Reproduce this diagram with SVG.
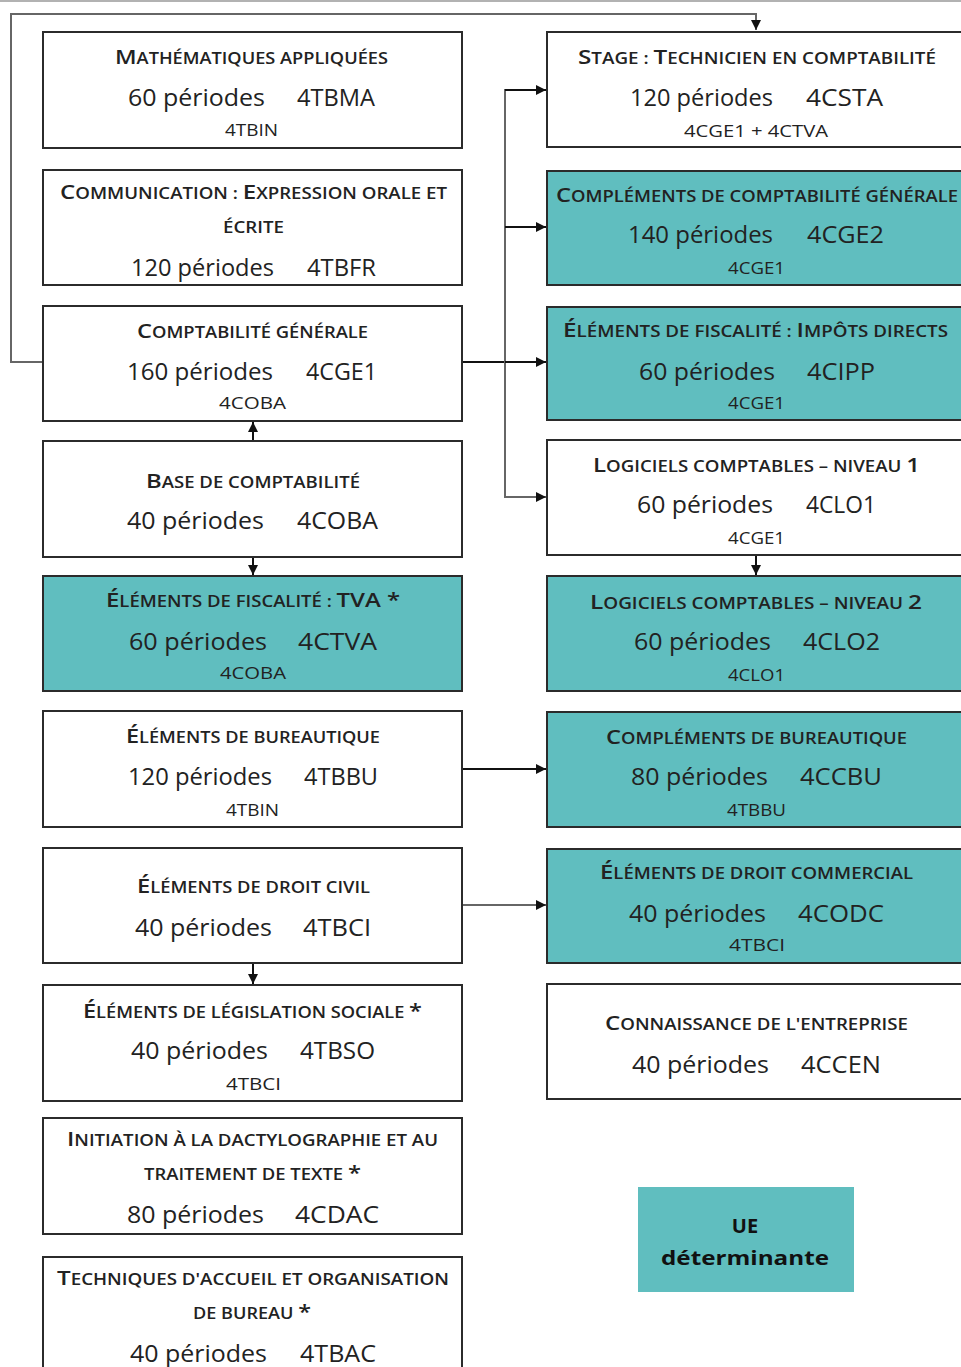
<svg xmlns="http://www.w3.org/2000/svg" width="961" height="1367" viewBox="0 0 961 1367">
<style>
.box{fill:#fff;stroke:#2b2b2b;stroke-width:2}
.det{fill:#60bebf}
text{font-family:"Open Sans","Noto Sans",sans-serif;fill:#222}
.t{font-size:20px;font-weight:600;text-anchor:middle}
.u{font-size:20px}
.s{font-size:15.5px;text-transform:uppercase}
.p{font-size:23px;font-weight:500}
.c{font-size:23px;font-weight:500}
.r{font-size:16px;font-weight:500;text-anchor:middle}
.lg{font-size:20px;font-weight:700;text-anchor:middle;fill:#111}
.cn{fill:none;stroke:#111;stroke-width:2}
.cg{fill:none;stroke:#666;stroke-width:2}
</style>
<defs>
<marker id="ah" markerUnits="userSpaceOnUse" markerWidth="11" markerHeight="11" refX="10" refY="5" orient="auto">
<path d="M0,0 L10,5 L0,10 z" fill="#111"/>
</marker>
</defs>
<rect width="961" height="1367" fill="#fff"/>
<line x1="0" y1="1" x2="961" y2="1" stroke="#999" stroke-width="1.5"/>

<g id="connectors">
<polyline class="cg" points="43,362 11,362 11,14 756,14 756,30" marker-end="url(#ah)"/>
<line class="cn" x1="462" y1="362" x2="505" y2="362"/>
<line class="cg" x1="505" y1="89" x2="505" y2="498"/>
<line class="cn" x1="505" y1="90" x2="546" y2="90" marker-end="url(#ah)"/>
<line class="cn" x1="505" y1="227" x2="546" y2="227" marker-end="url(#ah)"/>
<line class="cn" x1="505" y1="362" x2="546" y2="362" marker-end="url(#ah)"/>
<line class="cg" x1="505" y1="497" x2="546" y2="497" marker-end="url(#ah)"/>
<line class="cn" x1="253" y1="441" x2="253" y2="422" marker-end="url(#ah)"/>
<line class="cn" x1="253" y1="557" x2="253" y2="575" marker-end="url(#ah)"/>
<line class="cn" x1="756" y1="555" x2="756" y2="575" marker-end="url(#ah)"/>
<line class="cn" x1="462" y1="769" x2="546" y2="769" marker-end="url(#ah)"/>
<line class="cg" x1="462" y1="905" x2="546" y2="905" marker-end="url(#ah)"/>
<line class="cn" x1="253" y1="963" x2="253" y2="984" marker-end="url(#ah)"/>
</g>

<g id="n-4TBMA">
<rect class="box" x="43" y="32" width="419" height="116"/>
<text class="t" x="251.5" y="64" textLength="273" lengthAdjust="spacingAndGlyphs"><tspan class="u">M</tspan><tspan class="s">athématiques appliquées</tspan></text>
<text class="p" x="128" y="106" textLength="137" lengthAdjust="spacingAndGlyphs">60 périodes</text>
<text class="c" x="297" y="106" textLength="78" lengthAdjust="spacingAndGlyphs">4TBMA</text>
<text class="r" x="251.5" y="136" textLength="53" lengthAdjust="spacingAndGlyphs">4TBIN</text>
</g>

<g id="n-4TBFR">
<rect class="box" x="43" y="170" width="419" height="115"/>
<text class="t" x="253.5" y="199" textLength="387" lengthAdjust="spacingAndGlyphs"><tspan class="u">C</tspan><tspan class="s">ommunication : </tspan><tspan class="u">E</tspan><tspan class="s">xpression orale et</tspan></text>
<text class="t" x="253.5" y="233" textLength="61" lengthAdjust="spacingAndGlyphs"><tspan class="s">écrite</tspan></text>
<text class="p" x="131" y="276" textLength="143" lengthAdjust="spacingAndGlyphs">120 périodes</text>
<text class="c" x="307" y="276" textLength="69" lengthAdjust="spacingAndGlyphs">4TBFR</text>
</g>

<g id="n-4CGE1">
<rect class="box" x="43" y="306" width="419" height="115"/>
<text class="t" x="252.5" y="338" textLength="231" lengthAdjust="spacingAndGlyphs"><tspan class="u">C</tspan><tspan class="s">omptabilité générale</tspan></text>
<text class="p" x="127" y="380" textLength="146" lengthAdjust="spacingAndGlyphs">160 périodes</text>
<text class="c" x="306" y="380" textLength="71" lengthAdjust="spacingAndGlyphs">4CGE1</text>
<text class="r" x="252.5" y="409" textLength="67" lengthAdjust="spacingAndGlyphs">4COBA</text>
</g>

<g id="n-4COBA">
<rect class="box" x="43" y="441" width="419" height="116"/>
<text class="t" x="253" y="488" textLength="214" lengthAdjust="spacingAndGlyphs"><tspan class="u">B</tspan><tspan class="s">ase de comptabilité</tspan></text>
<text class="p" x="127" y="529" textLength="137" lengthAdjust="spacingAndGlyphs">40 périodes</text>
<text class="c" x="297" y="529" textLength="81" lengthAdjust="spacingAndGlyphs">4COBA</text>
</g>

<g id="n-4CTVA">
<rect class="box det" x="43" y="576" width="419" height="115"/>
<text class="t" x="253" y="607" textLength="294" lengthAdjust="spacingAndGlyphs"><tspan class="u">É</tspan><tspan class="s">léments de fiscalité : </tspan><tspan class="u">TVA *</tspan></text>
<text class="p" x="129" y="650" textLength="138" lengthAdjust="spacingAndGlyphs">60 périodes</text>
<text class="c" x="298" y="650" textLength="79" lengthAdjust="spacingAndGlyphs">4CTVA</text>
<text class="r" x="253" y="679" textLength="66" lengthAdjust="spacingAndGlyphs">4COBA</text>
</g>

<g id="n-4TBBU">
<rect class="box" x="43" y="711" width="419" height="116"/>
<text class="t" x="253" y="743" textLength="254" lengthAdjust="spacingAndGlyphs"><tspan class="u">É</tspan><tspan class="s">léments de bureautique</tspan></text>
<text class="p" x="128" y="785" textLength="144" lengthAdjust="spacingAndGlyphs">120 périodes</text>
<text class="c" x="304" y="785" textLength="74" lengthAdjust="spacingAndGlyphs">4TBBU</text>
<text class="r" x="252.5" y="816" textLength="53" lengthAdjust="spacingAndGlyphs">4TBIN</text>
</g>

<g id="n-4TBCI">
<rect class="box" x="43" y="848" width="419" height="115"/>
<text class="t" x="253.5" y="893" textLength="233" lengthAdjust="spacingAndGlyphs"><tspan class="u">É</tspan><tspan class="s">léments de droit civil</tspan></text>
<text class="p" x="135" y="936" textLength="137" lengthAdjust="spacingAndGlyphs">40 périodes</text>
<text class="c" x="303" y="936" textLength="68" lengthAdjust="spacingAndGlyphs">4TBCI</text>
</g>

<g id="n-4TBSO">
<rect class="box" x="43" y="985" width="419" height="116"/>
<text class="t" x="252.5" y="1018" textLength="339" lengthAdjust="spacingAndGlyphs"><tspan class="u">É</tspan><tspan class="s">léments de législation sociale </tspan><tspan class="u">*</tspan></text>
<text class="p" x="131" y="1059" textLength="137" lengthAdjust="spacingAndGlyphs">40 périodes</text>
<text class="c" x="300" y="1059" textLength="75" lengthAdjust="spacingAndGlyphs">4TBSO</text>
<text class="r" x="253.5" y="1090" textLength="55" lengthAdjust="spacingAndGlyphs">4TBCI</text>
</g>

<g id="n-4CDAC">
<rect class="box" x="43" y="1118" width="419" height="116"/>
<text class="t" x="252.5" y="1146" textLength="371" lengthAdjust="spacingAndGlyphs"><tspan class="u">I</tspan><tspan class="s">nitiation à la dactylographie et au</tspan></text>
<text class="t" x="252.5" y="1180" textLength="217" lengthAdjust="spacingAndGlyphs"><tspan class="s">traitement de texte </tspan><tspan class="u">*</tspan></text>
<text class="p" x="127" y="1223" textLength="137" lengthAdjust="spacingAndGlyphs">80 périodes</text>
<text class="c" x="295" y="1223" textLength="84" lengthAdjust="spacingAndGlyphs">4CDAC</text>
</g>

<g id="n-4TBAC">
<rect class="box" x="43" y="1257" width="419" height="125"/>
<text class="t" x="253" y="1285" textLength="392" lengthAdjust="spacingAndGlyphs"><tspan class="u">T</tspan><tspan class="s">echniques d'accueil et organisation</tspan></text>
<text class="t" x="252" y="1319" textLength="118" lengthAdjust="spacingAndGlyphs"><tspan class="s">de bureau </tspan><tspan class="u">*</tspan></text>
<text class="p" x="130" y="1362" textLength="137" lengthAdjust="spacingAndGlyphs">40 périodes</text>
<text class="c" x="300" y="1362" textLength="76" lengthAdjust="spacingAndGlyphs">4TBAC</text>
</g>

<g id="n-4CSTA">
<rect class="box" x="547" y="32" width="430" height="115"/>
<text class="t" x="757" y="64" textLength="358" lengthAdjust="spacingAndGlyphs"><tspan class="u">S</tspan><tspan class="s">tage : </tspan><tspan class="u">T</tspan><tspan class="s">echnicien en comptabilité</tspan></text>
<text class="p" x="630" y="106" textLength="143" lengthAdjust="spacingAndGlyphs">120 périodes</text>
<text class="c" x="806" y="106" textLength="77" lengthAdjust="spacingAndGlyphs">4CSTA</text>
<text class="r" x="756" y="137" textLength="144" lengthAdjust="spacingAndGlyphs">4CGE1 + 4CTVA</text>
</g>

<g id="n-4CGE2">
<rect class="box det" x="547" y="171" width="430" height="114"/>
<text class="t" x="757" y="202" textLength="402" lengthAdjust="spacingAndGlyphs"><tspan class="u">C</tspan><tspan class="s">ompléments de comptabilité générale</tspan></text>
<text class="p" x="628" y="243" textLength="145" lengthAdjust="spacingAndGlyphs">140 périodes</text>
<text class="c" x="807" y="243" textLength="77" lengthAdjust="spacingAndGlyphs">4CGE2</text>
<text class="r" x="756.5" y="274" textLength="57" lengthAdjust="spacingAndGlyphs">4CGE1</text>
</g>

<g id="n-4CIPP">
<rect class="box det" x="547" y="307" width="430" height="113"/>
<text class="t" x="755.5" y="337" textLength="385" lengthAdjust="spacingAndGlyphs"><tspan class="u">É</tspan><tspan class="s">léments de fiscalité : </tspan><tspan class="u">I</tspan><tspan class="s">mpôts directs</tspan></text>
<text class="p" x="639" y="380" textLength="136" lengthAdjust="spacingAndGlyphs">60 périodes</text>
<text class="c" x="807" y="380" textLength="68" lengthAdjust="spacingAndGlyphs">4CIPP</text>
<text class="r" x="756.5" y="409" textLength="57" lengthAdjust="spacingAndGlyphs">4CGE1</text>
</g>

<g id="n-4CLO1">
<rect class="box" x="547" y="440" width="430" height="115"/>
<text class="t" x="756.5" y="472" textLength="327" lengthAdjust="spacingAndGlyphs"><tspan class="u">L</tspan><tspan class="s">ogiciels comptables – niveau </tspan><tspan class="u">1</tspan></text>
<text class="p" x="637" y="513" textLength="136" lengthAdjust="spacingAndGlyphs">60 périodes</text>
<text class="c" x="806" y="513" textLength="70" lengthAdjust="spacingAndGlyphs">4CLO1</text>
<text class="r" x="756.5" y="544" textLength="57" lengthAdjust="spacingAndGlyphs">4CGE1</text>
</g>

<g id="n-4CLO2">
<rect class="box det" x="547" y="576" width="430" height="115"/>
<text class="t" x="756" y="609" textLength="332" lengthAdjust="spacingAndGlyphs"><tspan class="u">L</tspan><tspan class="s">ogiciels comptables – niveau </tspan><tspan class="u">2</tspan></text>
<text class="p" x="634" y="650" textLength="137" lengthAdjust="spacingAndGlyphs">60 périodes</text>
<text class="c" x="803" y="650" textLength="77" lengthAdjust="spacingAndGlyphs">4CLO2</text>
<text class="r" x="756.5" y="681" textLength="57" lengthAdjust="spacingAndGlyphs">4CLO1</text>
</g>

<g id="n-4CCBU">
<rect class="box det" x="547" y="712" width="430" height="115"/>
<text class="t" x="756.5" y="744" textLength="301" lengthAdjust="spacingAndGlyphs"><tspan class="u">C</tspan><tspan class="s">ompléments de bureautique</tspan></text>
<text class="p" x="631" y="785" textLength="137" lengthAdjust="spacingAndGlyphs">80 périodes</text>
<text class="c" x="800" y="785" textLength="82" lengthAdjust="spacingAndGlyphs">4CCBU</text>
<text class="r" x="756.5" y="816" textLength="59" lengthAdjust="spacingAndGlyphs">4TBBU</text>
</g>

<g id="n-4CODC">
<rect class="box det" x="547" y="849" width="430" height="114"/>
<text class="t" x="756.5" y="879" textLength="313" lengthAdjust="spacingAndGlyphs"><tspan class="u">É</tspan><tspan class="s">léments de droit commercial</tspan></text>
<text class="p" x="629" y="922" textLength="137" lengthAdjust="spacingAndGlyphs">40 périodes</text>
<text class="c" x="798" y="922" textLength="86" lengthAdjust="spacingAndGlyphs">4CODC</text>
<text class="r" x="757" y="951" textLength="56" lengthAdjust="spacingAndGlyphs">4TBCI</text>
</g>

<g id="n-4CCEN">
<rect class="box" x="547" y="984" width="430" height="115"/>
<text class="t" x="756.5" y="1030" textLength="303" lengthAdjust="spacingAndGlyphs"><tspan class="u">C</tspan><tspan class="s">onnaissance de l'entreprise</tspan></text>
<text class="p" x="632" y="1073" textLength="137" lengthAdjust="spacingAndGlyphs">40 périodes</text>
<text class="c" x="801" y="1073" textLength="80" lengthAdjust="spacingAndGlyphs">4CCEN</text>
</g>

<g id="legend">
<rect class="det" x="638" y="1187" width="216" height="105"/>
<text class="lg" x="745" y="1233">UE</text>
<text class="lg" x="745" y="1265" textLength="168" lengthAdjust="spacingAndGlyphs">déterminante</text>
</g>
</svg>
